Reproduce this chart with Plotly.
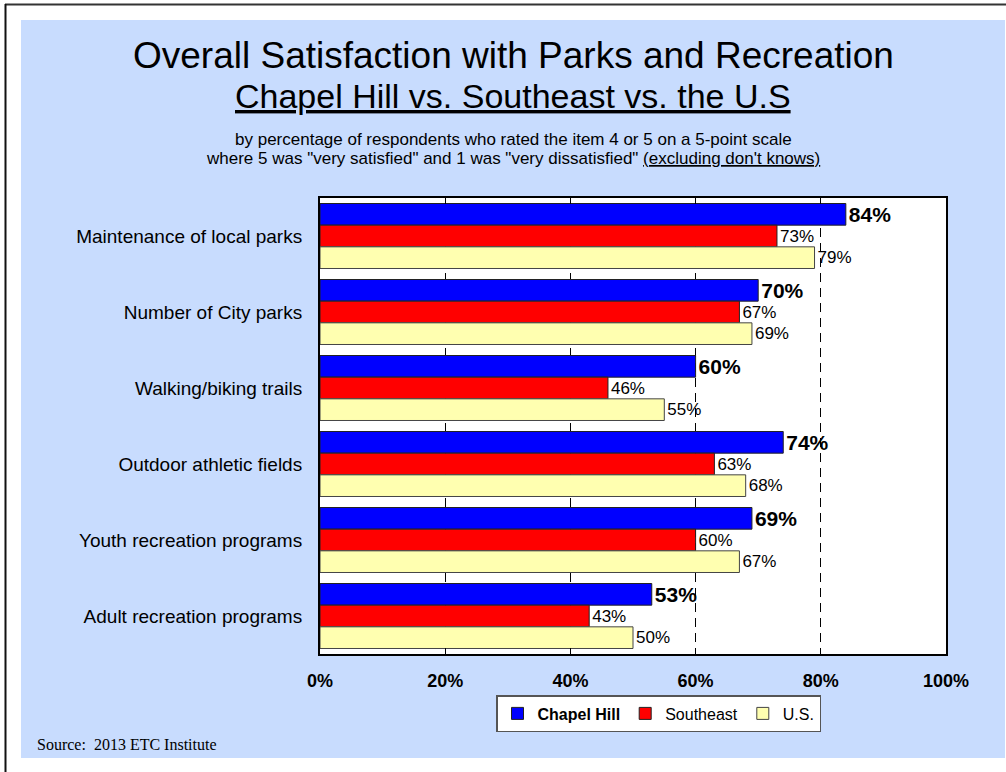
import plotly.graph_objects as go

categories = [
    "Maintenance of local parks",
    "Number of City parks",
    "Walking/biking trails",
    "Outdoor athletic fields",
    "Youth recreation programs",
    "Adult recreation programs",
]
chapel_hill = [84, 70, 60, 74, 69, 53]
southeast = [73, 67, 46, 63, 60, 43]
us = [79, 69, 55, 68, 67, 50]
tick_vals = [0, 20, 40, 60, 80, 100]
tick_text = ["0%", "20%", "40%", "60%", "80%", "100%"]

FONT = "Liberation Sans, Arial, sans-serif"
W, H = 1006, 772
L, R, T, B = 320, 946, 198, 654  # plot area pixel box


def px(x):
    return (x - L) / (R - L)


def py(y):
    return (B - y) / (B - T)


fig = go.Figure()
fig.add_trace(go.Bar(
    y=categories, x=chapel_hill, orientation="h", name="<b>Chapel Hill</b>",
    marker=dict(color="#0000FF", line=dict(color="#222222", width=1)),
    text=[f"<b>{v}%</b>" for v in chapel_hill], textposition="outside",
    textfont=dict(size=21, color="black", family=FONT), constraintext="none",
    cliponaxis=False,
))
fig.add_trace(go.Bar(
    y=categories, x=southeast, orientation="h", name="Southeast",
    marker=dict(color="#FF0000", line=dict(color="#222222", width=1)),
    text=[f"{v}%" for v in southeast], textposition="outside",
    textfont=dict(size=17, color="black", family=FONT), constraintext="none",
    cliponaxis=False,
))
fig.add_trace(go.Bar(
    y=categories, x=us, orientation="h", name="U.S.",
    marker=dict(color="#FFFFB0", line=dict(color="#444444", width=1)),
    text=[f"{v}%" for v in us], textposition="outside",
    textfont=dict(size=17, color="black", family=FONT), constraintext="none",
    cliponaxis=False,
))

shapes = [
    # light blue panel
    dict(type="rect", xref="paper", yref="paper", layer="below",
         x0=px(21), x1=px(1005), y0=py(758), y1=py(20),
         fillcolor="#C8DCFE", line=dict(width=0)),
    # white plot area
    dict(type="rect", xref="paper", yref="paper", layer="below",
         x0=0, x1=1, y0=0, y1=1, fillcolor="white", line=dict(width=0)),
    # page border lines
    dict(type="line", xref="paper", yref="paper", x0=px(5), x1=px(1010),
         y0=py(4.5), y1=py(4.5), line=dict(color="#333333", width=2)),
    dict(type="line", xref="paper", yref="paper", x0=px(5.5), x1=px(5.5),
         y0=py(4), y1=py(780), line=dict(color="#111111", width=2)),
]

annotations = [
    dict(text="Overall Satisfaction with Parks and Recreation", x=px(513), y=py(55),
         font=dict(size=37, color="black", family=FONT)),
    dict(text="<u>Chapel Hill vs. Southeast vs. the U.S</u>", x=px(513), y=py(96),
         font=dict(size=34, color="black", family=FONT)),
    dict(text="by percentage of respondents who rated the item 4 or 5 on a 5-point scale",
         x=px(513), y=py(139.5), font=dict(size=17, color="black", family=FONT)),
    dict(text='where 5 was "very satisfied" and 1 was "very dissatisfied" <u>(excluding don\'t knows)</u>',
         x=px(513), y=py(158.5), font=dict(size=17, color="black", family=FONT)),
    dict(text="Source:\u00a0\u00a02013 ETC Institute", x=px(35), y=py(744), xanchor="left",
         font=dict(size=16, color="black", family="Liberation Serif, Times New Roman, serif")),
]
for a in annotations:
    a.update(xref="paper", yref="paper", showarrow=False)
    a.setdefault("xanchor", "center")
    a["yanchor"] = "middle"

fig.update_layout(
    width=W, height=H,
    margin=dict(l=L, r=W - R, t=T, b=H - B, pad=0),
    paper_bgcolor="white", plot_bgcolor="white",
    barmode="group", bargap=0.145, bargroupgap=0,
    font=dict(family=FONT, color="black"),
    shapes=shapes, annotations=annotations,
    legend=dict(orientation="h", x=px(658.5), y=py(713.5), xanchor="center", yanchor="middle",
                bgcolor="white", bordercolor="#555555", borderwidth=1.5,
                font=dict(size=16, family=FONT, color="black"), itemwidth=30,
                traceorder="normal", tracegroupgap=0),
    xaxis=dict(range=[0, 100], tickvals=tick_vals, ticktext=tick_text,
               showgrid=True, gridcolor="black", gridwidth=1, griddash="9px,6px",
               ticks="inside", ticklen=6, tickcolor="black", tickwidth=1,
               showline=True, linecolor="black", linewidth=2, mirror="ticks",
               tickfont=dict(size=18, family=FONT, color="black", weight="bold"),
               ticklabelstandoff=9, zeroline=False, fixedrange=True),
    yaxis=dict(autorange="reversed", showgrid=False, ticks="",
               showline=True, linecolor="black", linewidth=2, mirror=True,
               tickfont=dict(size=19, family=FONT, color="black"),
               ticklabelstandoff=12, fixedrange=True),
)

fig.write_html("out.html", config={"displayModeBar": False},
               post_script="document.body.style.margin='0';")
